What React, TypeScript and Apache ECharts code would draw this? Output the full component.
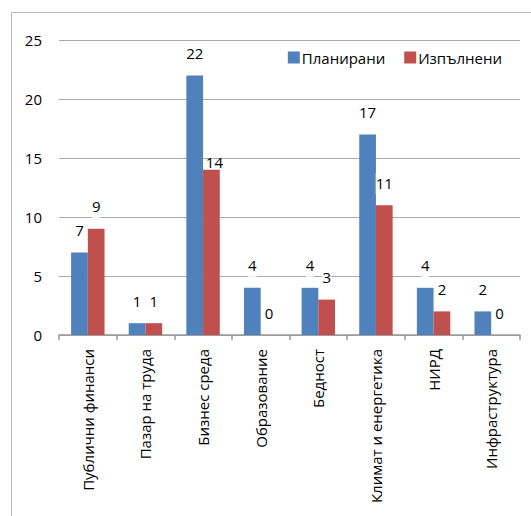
import React, { useEffect, useRef } from "react";
import * as echarts from "echarts";

const categories = [
  "Публични финанси",
  "Пазар на труда",
  "Бизнес среда",
  "Образование",
  "Бедност",
  "Климат и енергетика",
  "НИРД",
  "Инфраструктура",
];
const planned = [7, 1, 22, 4, 4, 17, 4, 2];
const done = [9, 1, 14, 0, 3, 11, 2, 0];
const seriesNames = ["Планирани", "Изпълнени"];

const FONT = "Open Sans";

export default function App() {
  const ref = useRef<HTMLDivElement>(null);
  useEffect(() => {
    document.body.style.margin = "0";
    const chart = echarts.init(ref.current!, null, { renderer: "svg" });
    const label = {
      show: true,
      position: "top" as const,
      distance: 11,
      color: "#000",
      fontFamily: FONT,
      fontSize: 15,
      backgroundColor: "#fff",
      padding: [2, 0, 4, 0],
    };
    const doneData = done.map((v, i) =>
      i === 2
        ? { value: v, label: { distance: 0, backgroundColor: "transparent", padding: 0, offset: [3, 0] } }
        : v
    );
    chart.setOption({
      animation: false,
      backgroundColor: "#fff",
      textStyle: { fontFamily: FONT },
      graphic: [
        {
          type: "rect",
          shape: { x: 11.5, y: 12.5, width: 560, height: 560 },
          style: { fill: "none", stroke: "#b8b8b8", lineWidth: 1 },
          silent: true,
          z: -1,
        },
      ],
      legend: {
        top: 45,
        right: 24,
        itemWidth: 12,
        itemHeight: 12,
        itemGap: 19,
        icon: "rect",
        textStyle: { fontFamily: FONT, fontSize: 15, color: "#000", padding: [0, 0, 0, -3] },
        data: seriesNames,
      },
      grid: { left: 59, right: 11, top: 40, bottom: 181, containLabel: false },
      xAxis: {
        type: "category",
        data: categories,
        axisLine: { lineStyle: { color: "#999", width: 1.5 } },
        axisTick: { show: true, length: 5, interval: 0, lineStyle: { color: "#999", width: 1.5 } },
        axisLabel: {
          rotate: 90,
          interval: 0,
          margin: 14,
          color: "#000",
          fontFamily: FONT,
          fontSize: 15,
        },
      },
      yAxis: {
        type: "value",
        min: 0,
        max: 25,
        interval: 5,
        axisLine: { show: false },
        axisTick: { show: false },
        splitLine: { lineStyle: { color: "#aaa", width: 1 } },
        axisLabel: { margin: 17, color: "#000", fontFamily: FONT, fontSize: 15 },
      },
      series: [
        {
          name: seriesNames[0],
          type: "bar",
          data: planned,
          barGap: "0%",
          barCategoryGap: "42%",
          itemStyle: { color: "#4F81BD" },
          label,
        },
        {
          name: seriesNames[1],
          type: "bar",
          data: doneData,
          itemStyle: { color: "#C0504D" },
          label,
        },
      ],
    });
    return () => chart.dispose();
  }, []);
  return <div ref={ref} style={{ width: 531, height: 516 }} />;
}
